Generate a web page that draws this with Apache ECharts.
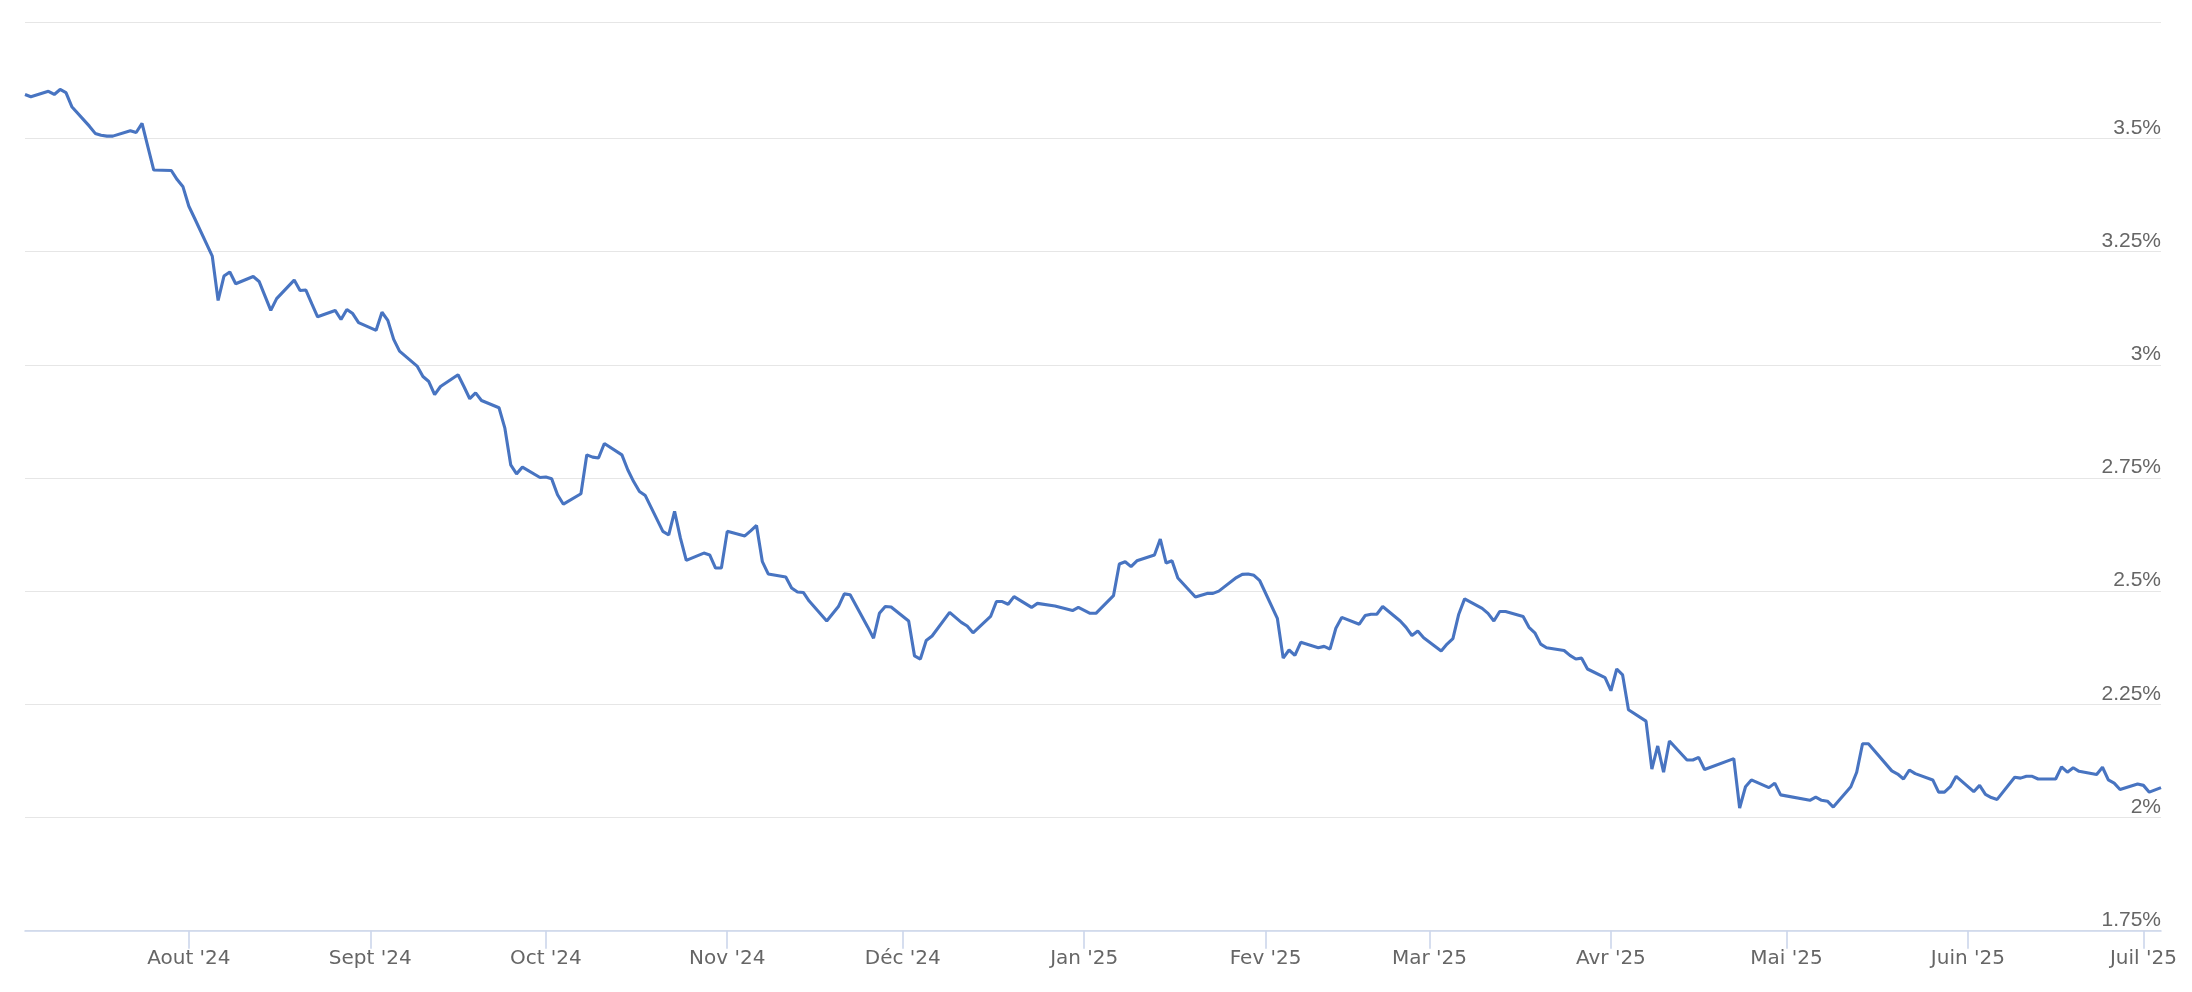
<!DOCTYPE html>
<html><head><meta charset="utf-8">
<script src="https://cdn.jsdelivr.net/npm/echarts@6/dist/echarts.min.js"></script>
<style>html,body{margin:0;padding:0;background:#fff;}#chart{width:2192px;height:992px;}</style>
</head><body><div id="chart"></div>
<script>
const dates = [
'2024-07-04','2024-07-05','2024-07-08','2024-07-09','2024-07-10','2024-07-11','2024-07-12','2024-07-15','2024-07-16','2024-07-17','2024-07-18','2024-07-19','2024-07-22','2024-07-23','2024-07-24','2024-07-25','2024-07-26','2024-07-29','2024-07-30','2024-07-31',
'2024-08-01','2024-08-02','2024-08-05','2024-08-06','2024-08-07','2024-08-08','2024-08-09','2024-08-12','2024-08-13','2024-08-14','2024-08-15','2024-08-16','2024-08-19','2024-08-20','2024-08-21','2024-08-22','2024-08-23','2024-08-26','2024-08-27','2024-08-28','2024-08-29','2024-08-30',
'2024-09-02','2024-09-03','2024-09-04','2024-09-05','2024-09-06','2024-09-09','2024-09-10','2024-09-11','2024-09-12','2024-09-13','2024-09-16','2024-09-17','2024-09-18','2024-09-19','2024-09-20','2024-09-23','2024-09-24','2024-09-25','2024-09-26','2024-09-27','2024-09-30',
'2024-10-01','2024-10-02','2024-10-03','2024-10-04','2024-10-07','2024-10-08','2024-10-09','2024-10-10','2024-10-11','2024-10-14','2024-10-15','2024-10-16','2024-10-17','2024-10-18','2024-10-21','2024-10-22','2024-10-23','2024-10-24','2024-10-25','2024-10-28','2024-10-29','2024-10-30','2024-10-31',
'2024-11-01','2024-11-04','2024-11-05','2024-11-06','2024-11-07','2024-11-08','2024-11-11','2024-11-12','2024-11-13','2024-11-14','2024-11-15','2024-11-18','2024-11-19','2024-11-20','2024-11-21','2024-11-22','2024-11-25','2024-11-26','2024-11-27','2024-11-28','2024-11-29',
'2024-12-02','2024-12-03','2024-12-04','2024-12-05','2024-12-06','2024-12-09','2024-12-10','2024-12-11','2024-12-12','2024-12-13','2024-12-16','2024-12-17','2024-12-18','2024-12-19','2024-12-20','2024-12-23','2024-12-24','2024-12-27','2024-12-30','2024-12-31',
'2025-01-02','2025-01-03','2025-01-06','2025-01-07','2025-01-08','2025-01-09','2025-01-10','2025-01-13','2025-01-14','2025-01-15','2025-01-16','2025-01-17','2025-01-20','2025-01-21','2025-01-22','2025-01-23','2025-01-24','2025-01-27','2025-01-28','2025-01-29','2025-01-30','2025-01-31',
'2025-02-03','2025-02-04','2025-02-05','2025-02-06','2025-02-07','2025-02-10','2025-02-11','2025-02-12','2025-02-13','2025-02-14','2025-02-17','2025-02-18','2025-02-19','2025-02-20','2025-02-21','2025-02-24','2025-02-25','2025-02-26','2025-02-27','2025-02-28',
'2025-03-03','2025-03-04','2025-03-05','2025-03-06','2025-03-07','2025-03-10','2025-03-11','2025-03-12','2025-03-13','2025-03-14','2025-03-17','2025-03-18','2025-03-19','2025-03-20','2025-03-21','2025-03-24','2025-03-25','2025-03-26','2025-03-27','2025-03-28','2025-03-31',
'2025-04-01','2025-04-02','2025-04-03','2025-04-04','2025-04-07','2025-04-08','2025-04-09','2025-04-10','2025-04-11','2025-04-14','2025-04-15','2025-04-16','2025-04-17','2025-04-22','2025-04-23','2025-04-24','2025-04-25','2025-04-28','2025-04-29','2025-04-30',
'2025-05-05','2025-05-06','2025-05-07','2025-05-08','2025-05-09','2025-05-12','2025-05-13','2025-05-14','2025-05-15','2025-05-16','2025-05-19','2025-05-20','2025-05-21','2025-05-22','2025-05-23','2025-05-26','2025-05-27','2025-05-28','2025-05-29','2025-05-30',
'2025-06-02','2025-06-03','2025-06-04','2025-06-05','2025-06-06','2025-06-09','2025-06-10','2025-06-11','2025-06-12','2025-06-13','2025-06-16','2025-06-17','2025-06-18','2025-06-19','2025-06-20','2025-06-23','2025-06-24','2025-06-25','2025-06-26','2025-06-27','2025-06-30',
'2025-07-01','2025-07-02','2025-07-03','2025-07-04'
];
const yields = [
3.597,3.592,3.604,3.597,3.608,3.601,3.570,3.527,3.511,3.507,3.505,3.505,3.517,3.513,3.533,3.481,3.430,3.429,3.409,3.393,
3.350,3.323,3.240,3.142,3.196,3.205,3.179,3.195,3.184,3.152,3.120,3.146,3.187,3.164,3.165,3.135,3.106,3.120,3.100,3.122,3.113,3.093,
3.076,3.116,3.098,3.056,3.030,2.997,2.974,2.963,2.934,2.952,2.978,2.952,2.925,2.938,2.921,2.905,2.860,2.779,2.759,2.774,2.751,
2.752,2.748,2.713,2.692,2.715,2.801,2.796,2.794,2.826,2.801,2.768,2.742,2.720,2.711,2.632,2.624,2.676,2.617,2.568,2.584,2.580,2.551,2.551,
2.632,2.622,2.633,2.645,2.565,2.538,2.531,2.507,2.498,2.497,2.478,2.434,2.450,2.466,2.494,2.492,2.421,2.396,2.451,2.466,2.465,
2.434,2.357,2.350,2.391,2.401,2.453,2.442,2.431,2.423,2.408,2.444,2.477,2.477,2.471,2.488,2.464,2.473,2.467,2.457,2.464,
2.451,2.451,2.490,2.560,2.565,2.554,2.567,2.580,2.615,2.562,2.567,2.529,2.487,2.491,2.495,2.495,2.500,2.530,2.537,2.538,2.535,2.523,
2.440,2.352,2.370,2.358,2.387,2.375,2.378,2.372,2.418,2.442,2.427,2.446,2.449,2.449,2.466,2.434,2.420,2.402,2.412,2.397,
2.368,2.383,2.395,2.449,2.483,2.462,2.451,2.434,2.455,2.455,2.444,2.420,2.408,2.383,2.375,2.369,2.358,2.350,2.352,2.328,2.309,
2.280,2.328,2.315,2.238,2.213,2.107,2.158,2.100,2.169,2.127,2.127,2.133,2.106,2.130,2.021,2.068,2.083,2.066,2.076,2.050,
2.038,2.045,2.038,2.036,2.023,2.068,2.100,2.163,2.163,2.148,2.103,2.096,2.085,2.105,2.097,2.083,2.056,2.056,2.068,2.091,
2.057,2.071,2.051,2.044,2.040,2.089,2.087,2.091,2.091,2.085,2.085,2.112,2.100,2.110,2.102,2.095,2.111,2.083,2.076,2.062,2.074,
2.071,2.056,2.061,2.066
];
const monthTicks = ['2024-08-01','2024-09-01','2024-10-01','2024-11-01','2024-12-01','2025-01-01','2025-02-01','2025-03-01','2025-04-01','2025-05-01','2025-06-01','2025-07-01'];
const monthLabels = ["Aout '24","Sept '24","Oct '24","Nov '24","Déc '24","Jan '25","Fev '25","Mar '25","Avr '25","Mai '25","Juin '25","Juil '25"];
const yLabelValues = [1.75, 2, 2.25, 2.5, 2.75, 3, 3.25, 3.5];
const yMin = 1.75, yTop = 3.7555;

function utc(s){ const p = s.split('-'); return Date.UTC(+p[0], +p[1]-1, +p[2]); }
const seriesData = dates.map((d,i)=>[utc(d), yields[i]]);
const tickValues = monthTicks.map(utc);
const gridValues = yLabelValues.concat([yTop]);
const FONT_Y = '"Liberation Sans", Arial, sans-serif';
const FONT_X = '"DejaVu Sans", Verdana, sans-serif';

const chart = echarts.init(document.getElementById('chart'), null, {renderer:'canvas'});
chart.setOption({
  animation:false,
  backgroundColor:'#ffffff',
  grid:{left:25,right:31,top:22.7,bottom:61.3},
  xAxis:{
    type:'value',
    min:utc(dates[0]), max:utc(dates[dates.length-1]),
    axisLine:{show:true,lineStyle:{color:'#ccd6eb',width:1.6}},
    axisTick:{show:true,length:18,customValues:tickValues,lineStyle:{color:'#ccd6eb',width:1.6}},
    axisLabel:{customValues:tickValues,
      formatter:function(v){ const i = tickValues.indexOf(+v); return i>=0 ? monthLabels[i] : ''; },
      color:'#666666', fontSize:20, fontFamily:FONT_X, margin:18},
    splitLine:{show:false}
  },
  yAxis:{
    type:'value', position:'right', min:yMin, max:yTop,
    axisLine:{show:false},
    axisTick:{show:false, customValues:gridValues},
    splitLine:{show:true,lineStyle:{color:'#e6e6e6',width:1.2}},
    axisLabel:{inside:true, margin:0, customValues:yLabelValues, verticalAlign:'bottom', lineHeight:21,
      formatter:function(v){ return (+(+v).toFixed(2)) + '%'; },
      color:'#666666', fontSize:21, fontFamily:FONT_Y}
  },
  series:[{type:'line', data:seriesData, showSymbol:false, symbol:'none',
    lineStyle:{color:'#4874c1', width:3.1}, itemStyle:{color:'#4874c1'}}]
});
</script></body></html>
